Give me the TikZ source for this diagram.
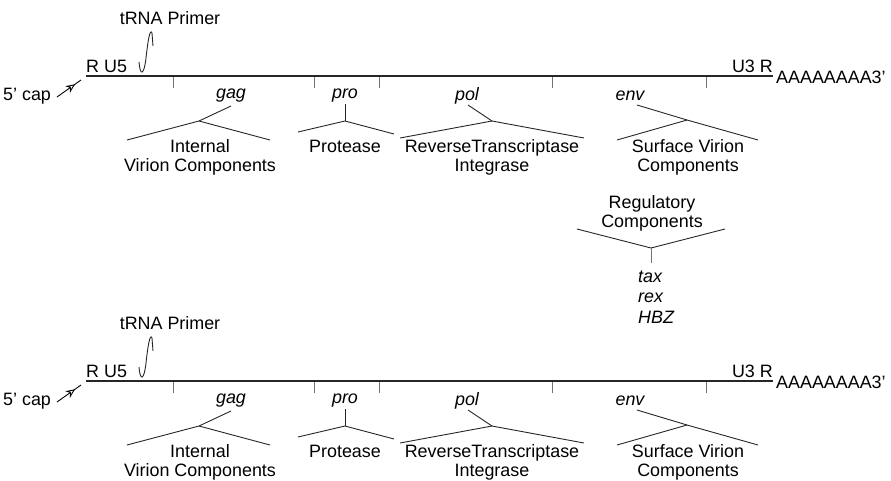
\documentclass[tikz,border=0pt]{standalone}
\usepackage{fontspec}
\setmainfont{Liberation Sans}
\usetikzlibrary{decorations.markings,arrows.meta}
\tikzset{
  lbl/.style={inner sep=0pt, font=\fontsize{17.9}{18.5}\selectfont, align=center},
  gene/.style={inner sep=0pt, font=\fontsize{17.9}{18.5}\selectfont\itshape},
  rna/.style={line width=1.4pt, black!85},
  tickline/.style={line width=1pt, black!55},
  branch/.style={line width=0.9pt, black!85},
  caparrow/.style={line width=0.9pt, black, decoration={markings,
      mark=at position 0.75 with {\arrow{Stealth[length=9pt,width=8pt,open,fill=white]}}},
      postaction={decorate}},
}
\newcommand\genomeunit{%
  % RNA line
  \coordinate (L) at (86,76);
  \coordinate (R) at (773,76);
  \draw[rna] (L) -- (R);
  % ticks
  \foreach \i/\x in {1/173,2/314,3/379,4/552,5/706}{
    \coordinate (t\i a) at (\x,77);
    \coordinate (t\i b) at (\x,88);
    \draw[tickline] (t\i a) -- (t\i b);
  }
  % end labels
  \node[lbl, anchor=base west] (ru5) at (86,72) {R U5};
  \node[lbl, anchor=base east] (u3r) at (773,72) {U3 R};
  \node[lbl, anchor=base west] (polyA) at (776,83) {AAAAAAAA3'};
  \node[lbl, anchor=base west] (cap) at (3,100) {5' cap};
  \coordinate (capA) at (57,97);
  \coordinate (capB) at (81,80);
  \draw[caparrow] (capA) -- (capB);
  % tRNA primer
  \node[lbl] (trna) at (170,18) {tRNA Primer};
  \draw[branch] (139,62) .. controls (140,76) and (144,76) .. (146,58)
     .. controls (148,40) and (150,28) .. (152,33) -- (153,46);
  % gag
  \node[gene] (gag) at (231,96) {gag};
  \coordinate (gagS) at (231,106);
  \coordinate (gagJ) at (199,121);
  \coordinate (gagL) at (127,140);
  \coordinate (gagR) at (270,140);
  \draw[branch] (gagS) -- (gagJ);
  \draw[branch] (gagL) -- (gagJ) -- (gagR);
  \node[lbl, anchor=north] (gagT) at (200,139.5) {Internal\\Virion Components};
  % pro
  \node[gene] (pro) at (345,96) {pro};
  \coordinate (proS) at (345,104);
  \coordinate (proJ) at (345,121);
  \coordinate (proL) at (298,132);
  \coordinate (proR) at (394,134);
  \draw[branch] (proS) -- (proJ);
  \draw[branch] (proL) -- (proJ) -- (proR);
  \node[lbl, anchor=north] (proT) at (345,139.5) {Protease};
  % pol
  \node[gene] (pol) at (467,96) {pol};
  \coordinate (polS) at (468,105);
  \coordinate (polJ) at (492,121);
  \coordinate (polL) at (400,138);
  \coordinate (polR) at (584,138);
  \draw[branch] (polS) -- (polJ);
  \draw[branch] (polL) -- (polJ) -- (polR);
  \node[lbl, anchor=north] (polT) at (492,139.5) {ReverseTranscriptase\\Integrase};
  % env
  \node[gene] (env) at (630,96) {env};
  \coordinate (envS) at (637,105);
  \coordinate (envJ) at (687,120);
  \coordinate (envL) at (617,140);
  \coordinate (envR) at (758,140);
  \draw[branch] (envS) -- (envJ) -- (envR);
  \draw[branch] (envL) -- (envJ);
  \node[lbl, anchor=north] (envT) at (688,139.5) {Surface Virion\\Components};
}
\begin{document}
\begin{tikzpicture}[x=1pt,y=-1pt]
  \useasboundingbox (0,0) rectangle (891,480);
  \begin{scope}[name prefix=top-]
    \genomeunit
  \end{scope}
  \begin{scope}[yshift=-305pt, name prefix=bot-]
    \genomeunit
  \end{scope}
  % regulatory components (lower genome only)
  \node[lbl, anchor=north] (reg) at (652,195.5) {Regulatory\\Components};
  \coordinate (regL) at (577,229);
  \coordinate (regJ) at (651,248);
  \coordinate (regR) at (725,229);
  \coordinate (regS) at (651,263);
  \draw[branch] (regL) -- (regJ) -- (regR);
  \draw[tickline] (regJ) -- (regS);
  \node[gene, anchor=base west] (tax) at (638,282) {tax};
  \node[gene, anchor=base west] (rex) at (638,302.5) {rex};
  \node[gene, anchor=base west] (hbz) at (638,323.5) {HBZ};
\end{tikzpicture}
\end{document}
